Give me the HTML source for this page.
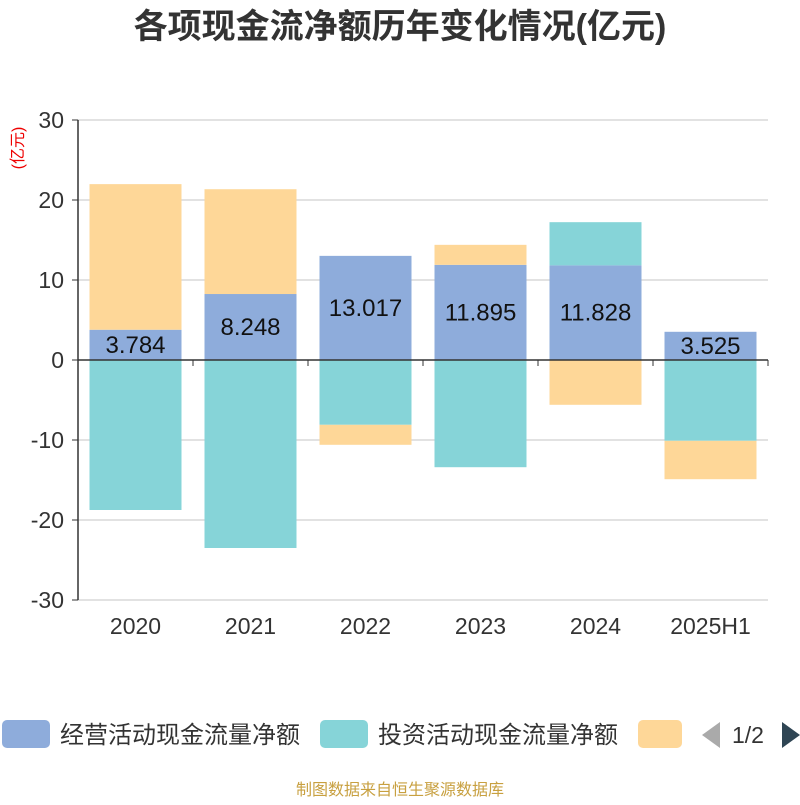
<!DOCTYPE html>
<html><head><meta charset="utf-8"><style>
body{margin:0;background:#fff;font-family:"Liberation Sans","Noto Sans CJK SC",sans-serif}
</style></head><body>
<svg id="c" width="800" height="800" xmlns="http://www.w3.org/2000/svg" font-family="Liberation Sans, Noto Sans CJK SC, sans-serif">
<text x="400" y="38" text-anchor="middle" font-size="34" font-weight="bold" fill="#333">各项现金流净额历年变化情况(亿元)</text>
<text transform="translate(23,148) rotate(-90)" text-anchor="middle" font-size="16" fill="#e00">(亿元)</text>
<g id="grid"></g><g id="bars"></g><g id="axes"></g>
<g>
<g><rect x="2" y="720" width="48" height="28" rx="5" fill="#8eacdb"/><text x="60" y="743" font-size="24" fill="#333">经营活动现金流量净额</text></g>
<g><rect x="320" y="720" width="48" height="28" rx="5" fill="#86d4d8"/><text x="378" y="743" font-size="24" fill="#333">投资活动现金流量净额</text></g>
<g><rect x="638" y="720" width="44" height="28" rx="5" fill="#fed798"/></g>
<path d="M720,722 L702,735 L720,748 Z" fill="#aaa"/>
<text x="732" y="743" font-size="23" fill="#333">1/2</text>
<path d="M782,722 L800,735 L782,748 Z" fill="#2f4554"/>
</g>
<text x="400" y="795" text-anchor="middle" font-size="16" fill="#c8a040">制图数据来自恒生聚源数据库</text>
</svg>
<script>
const categories=["2020","2021","2022","2023","2024","2025H1"];
const operating=[3.784,8.248,13.017,11.895,11.828,3.525];
const investing=[-18.75,-23.5,-8.1,-13.4,5.4,-10.1];
const financing=[18.2,13.1,-2.5,2.5,-5.6,-4.8];
const yTicks=[30,20,10,0,-10,-20,-30];
const NS="http://www.w3.org/2000/svg";
const L=78,R=768,T=120,B=600,ymin=-30,ymax=30;
const y=v=>T+(ymax-v)/(ymax-ymin)*(B-T);
const cw=(R-L)/categories.length;
const x=i=>L+cw*i;
function mk(tag,at,parent){const e=document.createElementNS(NS,tag);for(const k in at)e.setAttribute(k,at[k]);document.getElementById(parent).appendChild(e);return e;}
yTicks.forEach(t=>{
 const g=mk('line',{x1:L,x2:R,y1:y(t),y2:y(t),stroke:'#c4c4c4','stroke-width':1},'grid');
 
 
 const k=mk('line',{x1:L-6,x2:L,y1:y(t),y2:y(t),stroke:'#333'},'axes');
 
 
 const tx=mk('text',{x:L-14,y:y(t)+8,'text-anchor':'end','font-size':23,fill:'#333'},'axes');
 tx.textContent=t;
 
 
});
const ya=mk('line',{x1:L,x2:L,y1:T,y2:B,stroke:'#333','stroke-width':1.5},'axes');


const xa=mk('line',{x1:L,x2:R,y1:y(0),y2:y(0),stroke:'#333','stroke-width':1.5},'axes');


const series=[[operating,'#8eacdb','operating'],[investing,'#86d4d8','investing'],[financing,'#fed798','financing']];
categories.forEach((c,i)=>{
 let pos=0,neg=0;const bw=cw*0.8,bx=x(i)+cw*0.1;
 series.forEach(([arr,col,nm])=>{
  const v=arr[i];let a,b;
  if(v>=0){a=pos;b=pos+v;pos=b;}else{a=neg;b=neg+v;neg=b;}
  const r=mk('rect',{x:bx,width:bw,y:Math.min(y(a),y(b)),height:Math.abs(y(a)-y(b)),fill:col},'bars');
  
  
 });
 const lt=mk('text',{x:x(i)+cw/2,y:y(operating[i]/2)+8,'text-anchor':'middle','font-size':24,fill:'#111'},'bars');
 lt.textContent=operating[i].toFixed(3);
 
 
 const tk=mk('line',{x1:x(i),x2:x(i),y1:y(0),y2:y(0)+6,stroke:'#333'},'axes');
 
 
 const xl=mk('text',{x:x(i)+cw/2,y:634,'text-anchor':'middle','font-size':23,fill:'#333'},'axes');
 xl.textContent=c;
 
 
});
const tk=mk('line',{x1:R,x2:R,y1:y(0),y2:y(0)+6,stroke:'#333'},'axes');


</script>
</body></html>
